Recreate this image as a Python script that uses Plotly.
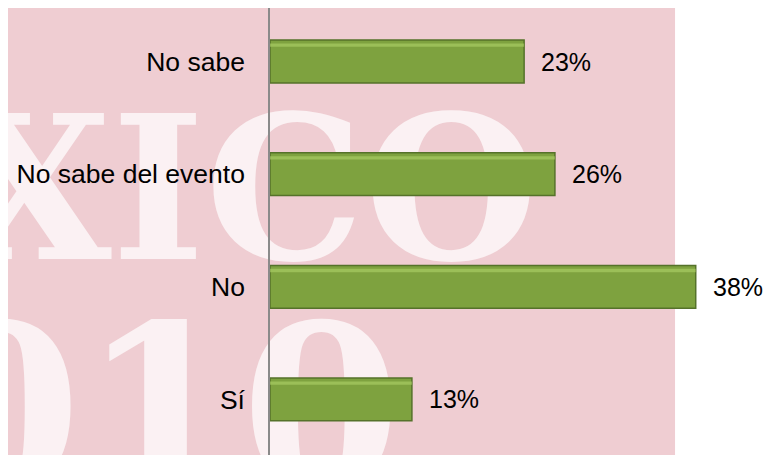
import plotly.graph_objects as go

# categories bottom -> top
categorias = ['Sí', 'No', 'No sabe del evento', 'No sabe']
valores = [12.9, 38.7, 25.9, 23.1]
etiquetas = ['13%', '38%', '26%', '23%']

verde = '#7EA23F'
borde = '#55722A'
rosa = '#EFCDD2'
marca = 'rgba(255,255,255,0.72)'

fig = go.Figure()

fig.add_trace(go.Bar(
    x=valores, y=categorias, orientation='h', width=0.38,
    marker=dict(color=verde, line=dict(color=borde, width=1.5)),
    hoverinfo='skip'))

# soft light strip near the top of each bar (bevel look)
fig.add_trace(go.Bar(
    x=valores, y=categorias, orientation='h', width=0.03, offset=0.13,
    marker=dict(color='rgba(175,210,105,0.6)', line=dict(width=0)),
    hoverinfo='skip'))

for v, c, t in zip(valores, categorias, etiquetas):
    fig.add_annotation(x=v, y=c, text=t, showarrow=False, xanchor='left',
                       xshift=15, font=dict(size=25, color='black'))

# pink background with the faint watermark
fig.add_shape(type='rect', xref='paper', yref='paper', x0=-0.553, x1=0.830,
              y0=0, y1=1.02, fillcolor=rosa, line=dict(width=0), layer='below')
fig.add_shape(type='rect', xref='paper', yref='paper', x0=-0.655, x1=0.5,
              y0=0.535, y1=0.725, line=dict(width=0), layer='below',
              fillcolor='rgba(0,0,0,0)',
              label=dict(text='<b>XICO</b>',
                         font=dict(size=200, color=marca, family='DejaVu Serif'),
                         textposition='middle left'))
fig.add_shape(type='rect', xref='paper', yref='paper', x0=-0.727, x1=0.5,
              y0=-0.1, y1=0.4, line=dict(width=0), layer='below',
              fillcolor='rgba(0,0,0,0)',
              label=dict(text='<b>010</b>',
                         font=dict(size=230, color=marca, family='DejaVu Serif'),
                         textposition='middle left'))

fig.update_layout(
    width=776, height=455,
    margin=dict(l=262, r=26, t=0, b=0),
    barmode='overlay',
    showlegend=False,
    paper_bgcolor='white',
    plot_bgcolor='rgba(0,0,0,0)',
    font=dict(family='Liberation Sans, Arial', color='black'),
    xaxis=dict(range=[0, 44.36], visible=False, fixedrange=True),
    yaxis=dict(categoryorder='array', categoryarray=categorias,
               range=[-0.564, 3.475], showline=True, linecolor='#8A8A8A',
               linewidth=1.5, showgrid=False, zeroline=False, ticks='',
               ticklabelstandoff=18, tickfont=dict(size=26.5, color='black')),
)

fig.write_html('out.html')
